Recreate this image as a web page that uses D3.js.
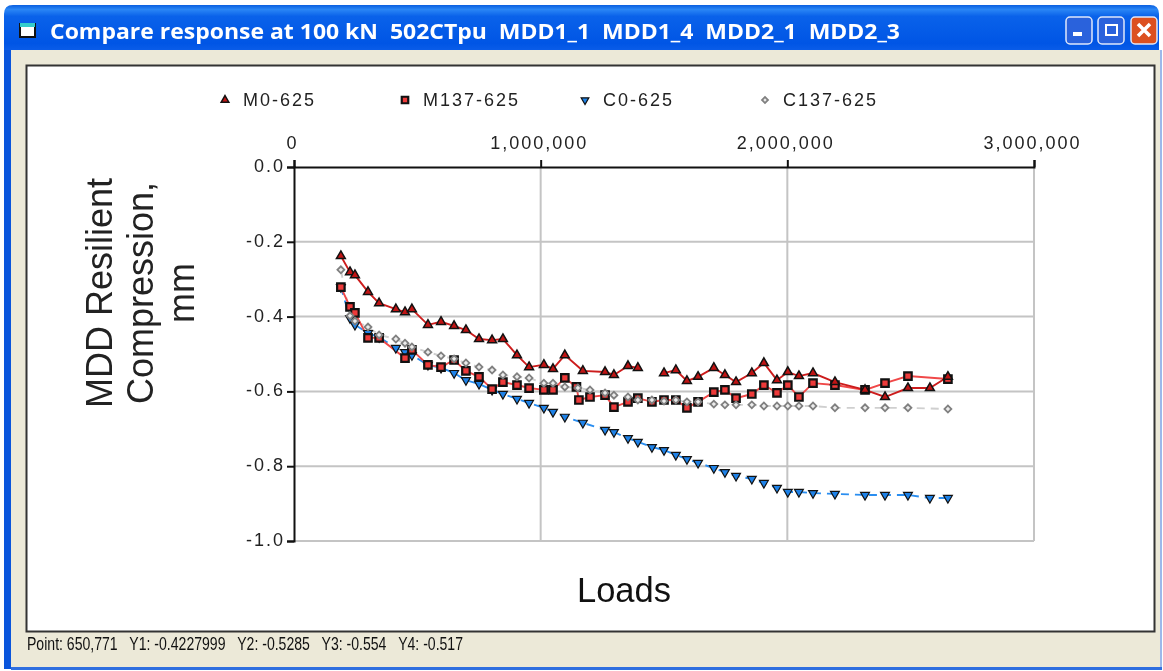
<!DOCTYPE html>
<html><head><meta charset="utf-8">
<script src="https://cdn.jsdelivr.net/npm/d3@7/dist/d3.min.js"></script>
<style>html,body{margin:0;padding:0;background:#fff;overflow:hidden}svg{display:block;filter:blur(.6px)}text{font-family:"Liberation Sans",Arial,sans-serif}</style>
</head><body><svg id="c" width="1163" height="671"></svg>
<script>
const windowTitle = "Compare response at 100 kN\u00a0\u00a0502CTpu\u00a0\u00a0MDD1_1\u00a0\u00a0MDD1_4\u00a0\u00a0MDD2_1\u00a0\u00a0MDD2_3";
const statusText = "Point: 650,771\u00a0\u00a0\u00a0Y1: -0.4227999\u00a0\u00a0\u00a0Y2: -0.5285\u00a0\u00a0\u00a0Y3: -0.554\u00a0\u00a0\u00a0Y4: -0.517";
const xTicks = [0, 1000000, 2000000, 3000000];
const yTicks = [0, -0.2, -0.4, -0.6, -0.8, -1.0];
const yTitleLines = ["MDD Resilient", "Compression,", "mm"];
const xTitle = "Loads";

const m0Loads = [190,227,247,300,345,413,450,478,543,596,649,697,750,803,847,904,953,1013,1050,1098,1171,1261,1297,1354,1394,1440,1500,1548,1593,1638,1702,1747,1792,1856,1905,1958,2002,2047,2104,2193,2315,2396,2489,2578,2651];
const m0Values = [-.238,-.281,-.289,-.334,-.364,-.380,-.388,-.380,-.422,-.414,-.425,-.436,-.460,-.463,-.460,-.503,-.535,-.529,-.540,-.503,-.545,-.548,-.556,-.532,-.537,null,-.551,-.543,-.572,-.561,-.537,-.556,-.575,-.551,-.524,-.570,-.548,-.559,-.551,-.575,-.596,-.615,-.591,-.591,-.561];

const m137Loads = [190,227,247,300,345,450,478,543,596,649,697,750,803,847,904,953,1013,1050,1098,1145,1155,1200,1261,1297,1354,1394,1451,1500,1548,1593,1638,1702,1747,1792,1856,1905,1958,2002,2047,2104,2193,2315,2396,2489,2651];
const m137Values = [-.321,-.374,-.390,-.457,-.457,-.511,-.489,-.529,-.535,-.516,-.545,-.561,-.594,-.575,-.583,-.591,-.596,-.596,-.564,-.588,-.623,-.615,-.610,-.642,-.628,-.618,-.628,-.623,-.623,-.644,-.628,-.602,-.596,-.618,-.607,-.583,-.604,-.583,-.615,-.578,-.583,-.596,-.578,-.559,-.567];

const c0Loads = [190,227,247,300,345,413,450,478,543,596,649,697,750,803,847,904,953,1013,1050,1098,1171,1261,1297,1354,1394,1451,1500,1548,1593,1638,1702,1747,1792,1856,1905,1958,2002,2047,2104,2193,2315,2396,2489,2578,2651];
const c0Values = [-.321,-.404,-.422,-.444,-.455,-.484,-.495,-.503,-.529,-.537,-.551,-.570,-.580,-.596,-.607,-.620,-.631,-.644,-.655,-.668,-.684,-.703,-.709,-.725,-.735,-.749,-.757,-.770,-.781,-.791,-.805,-.816,-.826,-.834,-.845,-.858,-.869,-.869,-.872,-.874,-.877,-.877,-.877,-.885,-.885];

const c137Loads = [190,227,247,300,345,413,450,478,543,596,649,697,750,803,847,904,953,1013,1050,1098,1151,1200,1261,1297,1354,1394,1451,1500,1548,1593,1638,1702,1747,1792,1856,1905,1958,2002,2047,2104,2193,2315,2396,2489,2651];
const c137Values = [-.275,-.398,-.412,-.428,-.449,-.460,-.471,-.481,-.495,-.505,-.513,-.524,-.535,-.543,-.556,-.561,-.564,-.578,-.578,-.588,-.591,-.596,-.604,-.610,-.615,-.623,-.623,-.626,-.623,-.628,-.628,-.634,-.636,-.636,-.636,-.639,-.639,-.639,-.639,-.639,-.644,-.644,-.644,-.644,-.647];

const seriesNames = ["M0-625","M137-625","C0-625","C137-625"];

const svg = d3.select("#c");
const defs = svg.append("defs");
const tg = defs.append("linearGradient").attr("id","tb").attr("x1",0).attr("x2",0).attr("y1",0).attr("y2",1);
[[0,"#0a5fe0"],[.1,"#2a86f5"],[.25,"#0a62ea"],[.85,"#0055e5"],[1,"#0a5ce8"]].forEach(s=>tg.append("stop").attr("offset",s[0]).attr("stop-color",s[1]));

// window chrome
svg.append("rect").attr("x",4).attr("y",40).attr("width",1155).attr("height",629).attr("fill","#0a55dc");
svg.append("path").attr("d","M4 50V14Q4 5 13 5H1150Q1159 5 1159 14V50Z").attr("fill","url(#tb)");
svg.append("rect").attr("x",11).attr("y",50).attr("width",1151).attr("height",617).attr("fill","#ece9d8");
svg.append("rect").attr("x",1160).attr("y",50).attr("width",2).attr("height",617).attr("fill","#9db8ea");
svg.append("rect").attr("x",11).attr("y",667).attr("width",1151).attr("height",3).attr("fill","#2f6fe0");
svg.append("rect").attr("x",26.5).attr("y",65.5).attr("width",1128).attr("height",566).attr("fill","#fff").attr("stroke","#333").attr("stroke-width",2);

// title icon and text
svg.append("rect").attr("x",20).attr("y",24).attr("width",15).attr("height",13).attr("fill","#fff").attr("stroke","#111").attr("stroke-width",2);
svg.append("rect").attr("x",20).attr("y",23).attr("width",15).attr("height",4).attr("fill","#3cc");
svg.append("text").attr("x",50).attr("y",39).attr("fill","#fff").attr("font-size",21.5).attr("font-weight","bold").style("font-family","'Open Sans',sans-serif").attr("textLength",850).attr("lengthAdjust","spacingAndGlyphs").text(windowTitle);

// window buttons
const btn = svg.append("g");
[[1066,"#2a62dc"],[1098,"#2a62dc"],[1131,"#dc5020"]].forEach(b=>btn.append("rect").attr("x",b[0]).attr("y",17).attr("width",26).attr("height",27).attr("rx",4).attr("fill",b[1]).attr("stroke","#dfe8fb").attr("stroke-width",1.5));
btn.append("rect").attr("x",1073).attr("y",32).attr("width",9).attr("height",4).attr("fill","#fff");
btn.append("rect").attr("x",1106).attr("y",25).attr("width",11).attr("height",10).attr("fill","none").attr("stroke","#fff").attr("stroke-width",2);
btn.append("path").attr("d","M1138 24L1150 36M1150 24L1138 36").attr("stroke","#fff").attr("stroke-width",3.5);

// status
svg.append("text").attr("x",27).attr("y",650).attr("font-size",18).attr("fill","#111").attr("textLength",436).attr("lengthAdjust","spacingAndGlyphs").text(statusText);

// scales
const x = d3.scaleLinear().domain([0,3000000]).range([294,1034]);
const y = d3.scaleLinear().domain([0,-1]).range([167,541]);

// grid
const grid = svg.append("g").attr("stroke","#c4c4c4").attr("stroke-width",2);
yTicks.slice(1).forEach(v=>grid.append("line").attr("x1",x(0)).attr("x2",x(3000000)).attr("y1",y(v)).attr("y2",y(v)));
xTicks.slice(1).forEach(v=>grid.append("line").attr("x1",x(v)).attr("x2",x(v)).attr("y1",y(0)).attr("y2",y(-1)));

// axes
const axT = svg.append("g").attr("transform",`translate(0,${y(0)})`).call(d3.axisTop(x).tickValues(xTicks).tickFormat(d3.format(",")).tickSize(7).tickPadding(11));
const axL = svg.append("g").attr("transform",`translate(${x(0)},0)`).call(d3.axisLeft(y).tickValues(yTicks).tickFormat(d3.format(".1f")).tickSize(7).tickPadding(2));
[axT,axL].forEach(a=>{
  a.selectAll("path,line").attr("stroke","#111").attr("stroke-width",2);
  a.selectAll("text").attr("font-size",18).attr("fill","#222").style("letter-spacing","2px").style("font-family","'Liberation Sans',Arial,sans-serif");
});
axL.selectAll("text").text(function(){return this.textContent.replace("\u2212","-");}).attr("dy","0.25em");
axT.selectAll("text").attr("dx",-2);

// titles
svg.append("text").attr("x",624).attr("y",602).attr("text-anchor","middle").attr("font-size",34.5).attr("fill","#111").text(xTitle);
const yt = svg.append("g").attr("transform","translate(0,293) rotate(-90)");
yTitleLines.forEach((t,i)=>yt.append("text").attr("x",0).attr("y",112+i*41).attr("text-anchor","middle").attr("font-size",36).attr("fill","#222").text(t));

// series
const styles = [
 {loads:m0Loads,vals:m0Values,line:"#cc1c1c",dash:null,sym:d3.symbolTriangle,size:34,fill:"#c01414",stroke:"#111",sw:1.5,rot:0},
 {loads:m137Loads,vals:m137Values,line:"#f04848",dash:null,sym:d3.symbolSquare,size:56,fill:"#ee3a3a",stroke:"#111",sw:2.2,rot:0},
 {loads:c0Loads,vals:c0Values,line:"#2a8ef0",dash:"8 6",sym:d3.symbolTriangle,size:34,fill:"#1e82e8",stroke:"#111",sw:1.2,rot:180},
 {loads:c137Loads,vals:c137Values,line:"#cfcfcf",dash:"8 6",sym:d3.symbolSquare,size:24,fill:"#ececec",stroke:"#808080",sw:1.8,rot:45}
];
const order = [3,2,1,0];
const lineGen = d3.line().defined(d=>d.v!==null).x(d=>x(d.l*1000)).y(d=>y(d.v));
order.forEach(i=>{
  const s = styles[i];
  const pts = s.loads.map((l,k)=>({l,v:s.vals[k]}));
  svg.append("path").datum(pts).attr("fill","none").attr("stroke",s.line).attr("stroke-width",1.9).attr("stroke-dasharray",s.dash).attr("d",lineGen);
});
[2,1,3,0].forEach(i=>{
  const s = styles[i];
  const pts = s.loads.map((l,k)=>({l,v:s.vals[k]})).filter(d=>d.v!==null);
  svg.append("g").selectAll("path").data(pts).join("path")
    .attr("d",d3.symbol().type(s.sym).size(s.size))
    .attr("transform",d=>`translate(${x(d.l*1000)},${y(d.v)}) rotate(${s.rot})`)
    .attr("fill",s.fill).attr("stroke",s.stroke).attr("stroke-width",s.sw);
});

// legend
const legX = d3.scalePoint().domain(seriesNames).range([225,765]);
seriesNames.forEach((n,i)=>{
  const s = styles[i], cx = legX(n);
  svg.append("path").attr("d",d3.symbol().type(s.sym).size(s.size*.75)).attr("transform",`translate(${cx},100) rotate(${s.rot})`)
    .attr("fill",s.fill).attr("stroke",s.stroke).attr("stroke-width",s.sw);
  svg.append("text").attr("x",cx+18).attr("y",106).attr("font-size",18).attr("fill","#222").style("letter-spacing","2px").text(n);
});
</script></body></html>
